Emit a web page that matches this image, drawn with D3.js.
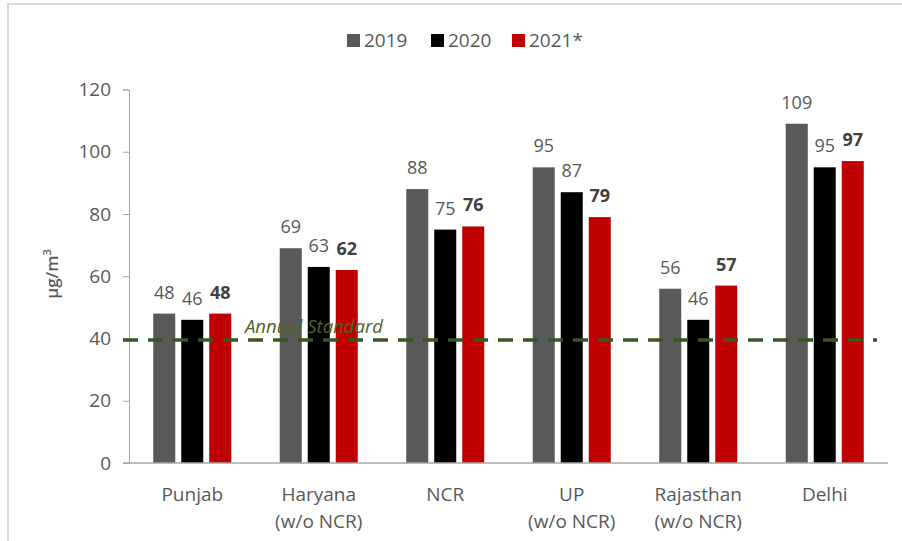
<!DOCTYPE html>
<html>
<head>
<meta charset="utf-8">
<script src="https://cdn.jsdelivr.net/npm/d3@7"></script>
<style>
  body { margin: 0; background: #fff; }
  svg text { font-family: "Open Sans", sans-serif; }
</style>
</head>
<body>
<div id="chart"></div>
<script>
// --- Data ---
const categories = ["Punjab", "Haryana\n(w/o NCR)", "NCR", "UP\n(w/o NCR)", "Rajasthan\n(w/o NCR)", "Delhi"];
const years = ["2019", "2020", "2021*"];
const values2019 = [48, 69, 88, 95, 56, 109];
const values2020 = [46, 63, 75, 87, 46, 95];
const values2021 = [48, 62, 76, 79, 57, 97];
const yTicks = [0, 20, 40, 60, 80, 100, 120];
const annualStandard = 40;

const seriesValues = [values2019, values2020, values2021];
const colors = ["#595959", "#000000", "#C00000"];

const rows = categories.map((c, i) => ({
  cat: c,
  vals: years.map((y, j) => ({ year: y, value: seriesValues[j][i], idx: j }))
}));

// --------------------------
// CHART DIMENSIONS
// --------------------------
const width = 902;
const height = 541;
const margin = { top: 89.5, right: 14, bottom: 78, left: 129 };

const svg = d3.select("#chart")
  .append("svg")
  .attr("width", width)
  .attr("height", height);

// frame
svg.append("rect")
  .attr("x", 8).attr("y", 4)
  .attr("width", width + 10).attr("height", height + 10)
  .attr("fill", "none")
  .attr("stroke", "#D9D9D9")
  .attr("stroke-width", 2);

const x0 = d3.scaleBand()
  .domain(categories)
  .range([margin.left, width - margin.right])
  .padding(0);

const x1 = d3.scaleBand()
  .domain(years)
  .range([0, x0.bandwidth()])
  .paddingInner(0.214)
  .paddingOuter(0.866);

const y = d3.scaleLinear()
  .domain([0, 120])
  .range([height - margin.bottom, margin.top]);

// Y axis
const yAxis = svg.append("g")
  .attr("transform", `translate(${margin.left},0)`)
  .call(d3.axisLeft(y).tickValues(yTicks).tickSize(6).tickPadding(12));
yAxis.select(".domain").attr("stroke", "#A6A6A6");
yAxis.selectAll(".tick line").attr("stroke", "#A6A6A6");
yAxis.selectAll(".tick text")
  .attr("fill", "#595959")
  .style("font-size", "19px");

// Y label
svg.append("text")
  .attr("transform", `translate(58, 274) rotate(-90)`)
  .attr("text-anchor", "middle")
  .attr("fill", "#595959")
  .style("font-size", "17px")
  .style("font-weight", "600")
  .html('μg/m<tspan dy="-7" font-size="11px">3</tspan>');

// Bars
const groups = svg.append("g").selectAll("g")
  .data(rows)
  .join("g")
  .attr("transform", d => `translate(${x0(d.cat)},0)`);

groups.selectAll("rect")
  .data(d => d.vals)
  .join("rect")
  .attr("x", d => x1(d.year))
  .attr("width", x1.bandwidth())
  .attr("y", d => y(d.value))
  .attr("height", d => y(0) - y(d.value))
  .attr("fill", d => colors[d.idx]);

// Data labels
groups.selectAll("text.lbl")
  .data(d => d.vals)
  .join("text")
  .attr("class", "lbl")
  .attr("x", d => x1(d.year) + x1.bandwidth() / 2)
  .attr("y", d => y(d.value) - 15)
  .attr("text-anchor", "middle")
  .attr("fill", d => d.idx === 2 ? "#404040" : "#595959")
  .style("font-size", "18px")
  .style("font-weight", d => d.idx === 2 ? "bold" : "normal")
  .text(d => d.value);

// X axis line
svg.append("line")
  .attr("x1", margin.left - 6)
  .attr("x2", width - margin.right)
  .attr("y1", y(0)).attr("y2", y(0))
  .attr("stroke", "#A6A6A6")
  .attr("stroke-width", 1.5);

// X labels
const xl = svg.append("g").selectAll("text")
  .data(categories)
  .join("text")
  .attr("x", d => x0(d) + x0.bandwidth() / 2)
  .attr("y", y(0) + 38)
  .attr("text-anchor", "middle")
  .attr("fill", "#595959")
  .style("font-size", "19px");
xl.each(function (d) {
  const lines = d.split("\n");
  d3.select(this).selectAll("tspan")
    .data(lines)
    .join("tspan")
    .attr("x", x0(d) + x0.bandwidth() / 2)
    .attr("dy", (l, i) => i === 0 ? 0 : 27)
    .text(l => l);
});

// Annual standard line
svg.append("line")
  .attr("x1", margin.left - 6)
  .attr("x2", 877)
  .attr("y1", y(annualStandard) + 1.5)
  .attr("y2", y(annualStandard) + 1.5)
  .attr("stroke", "#375623")
  .attr("stroke-width", 3.5)
  .attr("stroke-dasharray", "15,10");

svg.append("text")
  .attr("x", 245)
  .attr("y", y(annualStandard) - 6)
  .attr("fill", "#4F6228")
  .style("font-size", "18.5px")
  .style("font-style", "italic")
  .text("Annual Standard");

// Legend
const legendItems = [
  { label: years[0], x: 347 },
  { label: years[1], x: 431 },
  { label: years[2], x: 512 }
];
const lg = svg.append("g").selectAll("g")
  .data(legendItems)
  .join("g")
  .attr("transform", d => `translate(${d.x},34)`);
lg.append("rect")
  .attr("width", 13).attr("height", 13)
  .attr("fill", (d, i) => colors[i]);
lg.append("text")
  .attr("x", 17).attr("y", 13)
  .attr("fill", "#595959")
  .style("font-size", "19px")
  .text(d => d.label);
</script>
</body>
</html>
